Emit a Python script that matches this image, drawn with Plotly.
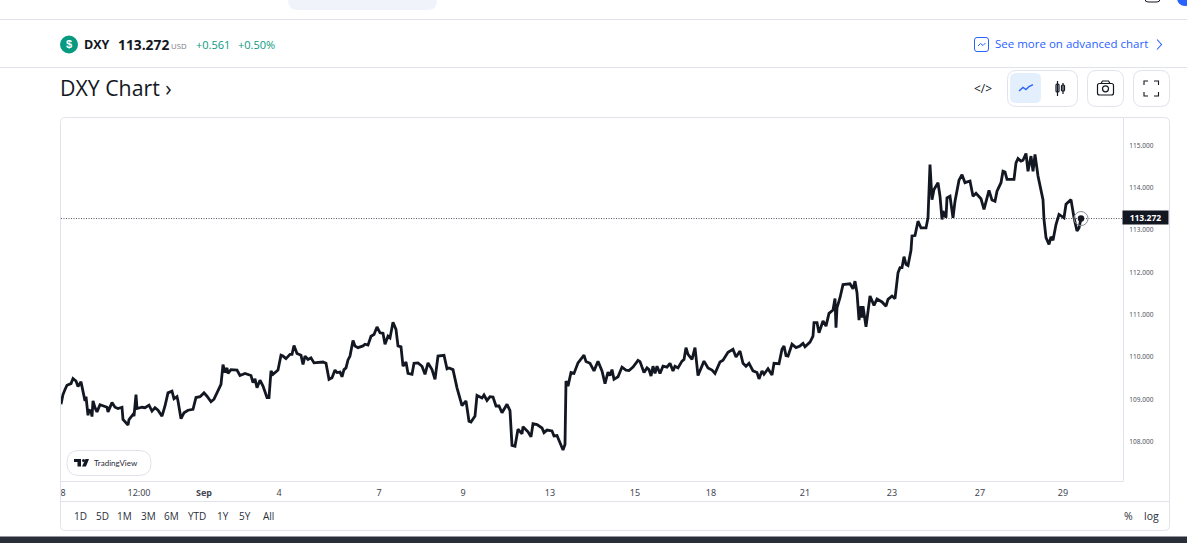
import plotly.graph_objects as go

W, H = 1187, 543

# bar number on the time scale and index level at that bar
bars = [
    0, 2, 4, 6, 10, 12, 15, 17, 20, 22, 24, 25, 27, 28, 30, 31, 32, 34, 36, 39, 42, 46, 47, 51, 54, 57, 61, 62, 67, 68,
    72, 73, 75, 76, 81, 84, 88, 91, 94, 97, 101, 104, 107, 111, 113, 116, 117, 120, 123, 127, 132, 135, 139, 143, 146,
    150, 153, 156, 160, 162, 164, 166, 167, 170, 176, 179, 184, 190, 192, 194, 196, 199, 202, 206, 208, 210, 212, 217,
    220, 222, 225, 229, 231, 233, 236, 240, 242, 244, 247, 250, 253, 262, 265, 268, 271, 274, 276, 279, 281, 283, 285,
    287, 289, 292, 294, 297,
    302, 304, 307, 310, 313, 316, 319, 322, 324, 327, 329, 332, 335, 337, 340, 342, 345, 347, 351, 353, 357, 361, 364,
    367, 371, 374, 377, 383, 386, 388, 392, 396, 401, 405, 408, 410, 414, 416, 421, 423, 426, 429, 432, 435, 438, 441,
    446, 449, 451, 454, 457, 461, 462, 467, 470, 472, 476, 481, 483, 486, 491, 493, 496, 499, 502, 504, 505, 507, 510,
    513, 517, 523, 525, 529, 533, 537, 541, 544, 547, 549, 551, 553, 557, 561, 565, 568, 572, 577, 579, 583, 586, 588,
    590, 592, 594, 596, 599,
    602, 606, 609, 612, 614, 617, 621, 623, 625, 627, 631, 634, 637, 641, 643, 647, 651, 654, 659, 662, 667, 672, 675,
    679, 682, 685, 688, 692, 696, 698, 701, 703, 707, 711, 713, 718, 721, 723, 725, 727, 731, 735, 739, 742, 744, 749,
    752, 753, 756, 758, 762, 765, 768, 772, 774, 775, 776, 779, 782, 789, 792, 794, 796, 798, 800, 801, 802, 805, 807,
    809, 813, 816, 821, 825, 827, 831, 834, 837, 839, 841, 843, 845, 847, 850,
    851, 854, 857, 860, 865, 867, 869, 871, 873, 877, 879, 881, 882, 885, 886, 889, 892, 894, 898, 901, 904, 909, 912,
    915, 920, 923, 928, 931, 934, 936, 940, 942, 944, 946, 953, 955, 957, 960, 962, 965, 967, 970, 972, 974, 977, 982,
    983, 985, 988, 990, 992, 995, 998, 1003, 1005, 1010, 1013, 1016, 1018, 1020,
]
closes = [
    108.88, 109.11, 109.23, 109.33, 109.37, 109.49, 109.43, 109.30, 109.41, 109.15, 108.96, 109.06, 108.62, 108.74,
    108.72, 108.59, 108.96, 108.80, 108.70, 108.87, 108.84, 108.81, 108.70, 108.92, 108.81, 108.78, 108.81, 108.52,
    108.39, 108.52, 108.64, 108.60, 109.11, 108.78, 108.81, 108.80, 108.86, 108.72, 108.80, 108.74, 108.60, 108.84,
    109.15, 109.19, 109.01, 109.06, 108.96, 108.54, 108.68, 108.74, 108.76, 109.04, 109.06, 109.15, 109.07, 108.94,
    109.00, 109.15, 109.35, 109.82, 109.63, 109.74, 109.61, 109.70, 109.69, 109.56, 109.61, 109.56, 109.39, 109.48,
    109.27, 109.45, 109.31, 109.04, 109.04, 109.67, 109.59, 109.69, 110.04, 110.02, 109.96, 110.06, 110.06, 110.27,
    110.08, 110.04, 109.82, 110.02, 109.94, 109.98, 109.86, 109.88, 109.85, 109.47, 109.51, 109.69, 109.63, 109.64,
    109.53, 109.70, 109.74, 109.93, 110.02, 110.39, 110.26, 110.22,
    110.26, 110.30, 110.28, 110.49, 110.53, 110.71, 110.57, 110.56, 110.30, 110.49, 110.45, 110.82, 110.65, 110.26,
    110.24, 109.78, 109.88, 109.61, 109.59, 109.85, 109.86, 109.78, 109.59, 109.86, 109.70, 109.47, 110.02, 110.04,
    109.72, 109.74, 109.70, 109.27, 108.85, 108.96, 108.48, 108.46, 108.60, 109.09, 109.03, 109.10, 108.97, 109.06,
    109.05, 108.84, 108.84, 108.68, 108.88, 108.73, 107.91, 107.89, 108.29, 108.18, 108.35, 108.23, 108.11, 108.42,
    108.40, 108.32, 108.21, 108.27, 108.25, 108.13, 108.14, 107.97, 107.80, 107.93, 109.43, 109.31, 109.63, 109.61,
    109.86, 110.04, 109.89, 109.85, 109.67, 109.90, 109.67, 109.37, 109.64, 109.56, 109.70, 109.47, 109.53, 109.76,
    109.69, 109.68, 109.76, 109.92, 109.89, 109.63, 109.74, 109.70, 109.55, 109.78, 109.61, 109.78, 109.61,
    109.78, 109.76, 109.85, 109.67, 109.78, 109.74, 109.90, 109.94, 110.22, 110.06, 109.94, 110.22, 109.56, 109.82,
    109.90, 109.74, 109.69, 109.61, 109.88, 109.92, 110.11, 110.18, 110.00, 110.14, 109.85, 109.78, 109.85, 109.67,
    109.63, 109.48, 109.67, 109.59, 109.72, 109.57, 109.85, 109.84, 110.18, 110.26, 110.03, 110.02, 110.30, 110.22,
    110.26, 110.32, 110.24, 110.35, 110.49, 110.81, 110.81, 110.57, 110.85, 110.73, 111.03, 111.11, 111.38, 110.69,
    111.16, 111.40, 111.71, 111.73, 111.61, 111.79, 111.52, 110.87, 111.20, 110.93, 111.20, 110.71, 111.12, 111.44,
    111.22, 111.37, 111.30, 111.20, 111.36, 111.44, 111.38, 111.99, 112.11, 112.11, 112.37, 112.19, 112.16, 112.52,
    112.86, 112.87, 113.21, 113.05, 113.05, 113.29, 114.55, 113.72, 113.96, 114.12, 113.80, 113.25, 113.45, 113.29,
    113.76, 113.80, 113.29, 113.68, 114.18, 114.31, 114.12, 114.16, 113.80, 113.87, 113.74, 113.49, 113.94, 113.71,
    113.68, 113.92, 114.12, 114.39, 114.37, 114.20, 114.20, 114.59, 114.69, 114.63, 114.65, 114.81, 114.39, 114.75,
    114.39, 114.79, 114.28, 113.72, 113.25, 112.82, 112.66, 112.84, 112.76, 113.13, 113.37, 113.29, 113.61, 113.72,
    113.29, 112.98, 113.05, 113.272,
]
last_price = 113.272

price_ticks = [108, 109, 110, 111, 112, 113, 114, 115]
price_labels = ["108.000", "109.000", "110.000", "111.000", "112.000", "113.000", "114.000", "115.000"]
time_ticks = [2, 78, 143, 218, 318, 402, 489, 574, 650, 744, 831, 919, 1002]
time_labels = ["8", "12:00", "<b>Sep</b>", "4", "7", "9", "13", "15", "18", "21", "23", "27", "29"]
range_buttons = ["1D", "5D", "1M", "3M", "6M", "YTD", "1Y", "5Y", "All"]

INK = "#131722"
BORDER = "#e0e3eb"
GREEN = "#089981"
BLUE = "#2962ff"
UI_FONT = "Open Sans"
CHART_FONT = "Noto Sans"


def px(x):
    return x / W


def py(y):
    return 1 - y / H


def path(*pts, close=False):
    s = "M" + " L".join(f"{px(x):.5f},{py(y):.5f}" for x, y in pts)
    return s + (" Z" if close else "")


def round_box(x0, y0, x1, y1, r):
    c = lambda x, y: f"{px(x):.5f},{py(y):.5f}"
    return (f"M{c(x0 + r, y0)} L{c(x1 - r, y0)} Q{c(x1, y0)} {c(x1, y0 + r)} L{c(x1, y1 - r)} "
            f"Q{c(x1, y1)} {c(x1 - r, y1)} L{c(x0 + r, y1)} Q{c(x0, y1)} {c(x0, y1 - r)} "
            f"L{c(x0, y0 + r)} Q{c(x0, y0)} {c(x0 + r, y0)} Z")


shapes = []


def add_path(d, line=None, fill=None, width=1):
    shapes.append(dict(type="path", path=d, xref="paper", yref="paper", fillcolor=fill or "rgba(0,0,0,0)",
                       line=dict(color=line or "rgba(0,0,0,0)", width=width if line else 0), layer="above"))


def add_circle(cx, cy, r, fill=None, line=None, width=1):
    shapes.append(dict(type="circle", xref="paper", yref="paper", x0=px(cx - r), x1=px(cx + r), y0=py(cy + r),
                       y1=py(cy - r), fillcolor=fill or "rgba(0,0,0,0)",
                       line=dict(color=line or "rgba(0,0,0,0)", width=width if line else 0), layer="above"))


annotations = []


def label(x, y, text, size, color=INK, anchor="left", font=UI_FONT):
    annotations.append(dict(x=px(x), y=py(y), xref="paper", yref="paper", text=text, showarrow=False, xanchor=anchor,
                            yanchor="middle", xshift=-1 if anchor == "left" else 0,
                            font=dict(size=size, color=color, family=font), borderpad=0, align=anchor))


# page frame
add_path(round_box(288, -12, 437, 10, 10), fill="#f0f3fa")
add_path(path((0, 19.5), (W, 19.5)), line=BORDER)
add_path(path((0, 67.5), (W, 67.5)), line=BORDER)
add_path(path((0, 540), (W, 540)), line="#2a2e39", width=7)
add_path(round_box(1145, -8, 1160, 2, 3), line=INK, width=1)
add_circle(1185, -2, 8, fill=BLUE)

# symbol header
add_circle(69, 44.5, 9, fill=GREEN)
label(69, 44.5, "<b>$</b>", 11, "white", "center", "Liberation Sans")
label(84, 44.5, "<b>DXY</b>", 12.5, INK)
label(118, 44.5, "<b>113.272</b>", 13.8, INK)
label(171, 46, "USD", 7.8, "#787b86")
label(196, 44.5, "+0.561", 11, GREEN)
label(238, 44.5, "+0.50%", 11, GREEN)

add_path(round_box(974.5, 37.5, 988.5, 51.5, 2.5), line=BLUE)
add_path(path((978, 46), (980.5, 43.5), (983, 45.5), (985.5, 43)), line=BLUE)
label(995, 43.5, "See more on advanced chart", 11.5, BLUE)
add_path(path((1157, 39.5), (1161.5, 44.5), (1157, 49.5)), line=BLUE, width=1.1)

# title row
label(60, 87.5, "DXY Chart ›", 21.3, INK)
label(982.5, 88, "&lt;/&gt;", 12, INK, "center")
add_path(round_box(1007.5, 70.5, 1077.5, 106.5, 9), line=BORDER)
add_path(round_box(1010, 73, 1041, 103, 6), fill="#e3effd")
add_path(path((1019, 91), (1023, 87.5), (1026, 89.5), (1029, 86.5), (1033, 84.5)), line=BLUE, width=1.4)
add_path(round_box(1056, 84, 1059, 92, 1), line=INK, width=1.2)
add_path(path((1057.5, 81), (1057.5, 96)), line=INK, width=1.2)
add_path(round_box(1061.5, 85, 1064.5, 91, 1), line=INK, width=1.2)
add_path(path((1063, 83), (1063, 94)), line=INK, width=1.2)
add_path(round_box(1087.5, 70.5, 1123.5, 106.5, 9), line=BORDER)
add_path(round_box(1097.5, 83.5, 1113.5, 95, 2), line=INK, width=1.2)
add_path(path((1101, 83.5), (1102.5, 81), (1108.5, 81), (1110, 83.5)), line=INK, width=1.2)
add_circle(1105.5, 88.8, 3, line=INK, width=1.2)
add_path(round_box(1133.5, 70.5, 1169.5, 106.5, 9), line=BORDER)
for a, b, c in [((1144, 85), (1144, 81), (1148, 81)), ((1154, 81), (1158.5, 81), (1158.5, 85)),
                ((1158.5, 92), (1158.5, 96), (1154, 96)), ((1148, 96), (1144, 96), (1144, 92))]:
    add_path(path(a, b, c), line=INK, width=1.1)

# chart frame
add_path(round_box(60.5, 117.5, 1169.5, 530.5, 5), line=BORDER)
add_path(path((61, 481.5), (1123.5, 481.5), (1123.5, 117.5)), line=BORDER)
add_path(path((60, 501.5), (1170, 501.5)), line=BORDER)

# TradingView badge
add_path(round_box(67, 450.5, 151, 475.5, 12), line=BORDER, fill="white")
add_path(path((74, 459), (81, 459), (81, 466.5), (77.5, 466.5), (77.5, 462), (74, 462), close=True), fill=INK)
add_circle(83.5, 460.5, 1.5, fill=INK)
add_path(path((85.5, 459), (89, 459), (86, 466.5), (82, 466.5), close=True), fill=INK)
label(94, 463, "TradingView", 8, "#2a2e39", "left", "Lato")

# range buttons and scale switches
for name, x in zip(range_buttons, [80, 102, 125, 148, 171, 197, 223, 245, 268]):
    label(x, 516, name, 10, "#2a2e39", "center")
label(1128, 516, "%", 10.5, "#2a2e39", "center")
label(1151, 516, "log", 10.5, "#2a2e39", "center")

# last price tag
annotations.append(dict(x=px(1145.5), y=last_price, xref="paper", yref="y", text="<b>113.272</b>", showarrow=False,
                        xanchor="center", yanchor="middle", bgcolor=INK, width=45, height=13, borderpad=0, yshift=1,
                        font=dict(size=8.5, color="white", family=CHART_FONT)))
shapes.append(dict(type="line", xref="x", yref="y", x0=0, x1=1062, y0=last_price, y1=last_price, layer="below",
                   line=dict(color="#50535e", width=1, dash="1px,1.5px")))

fig = go.Figure()
fig.add_trace(go.Scatter(x=bars, y=closes, mode="lines", line=dict(color=INK, width=2.8), hoverinfo="skip"))
fig.add_trace(go.Scatter(x=bars[-1:], y=closes[-1:], mode="markers", hoverinfo="skip",
                         marker=dict(size=14, color="rgba(0,0,0,0)", line=dict(color="#8a8d96", width=1))))
fig.add_trace(go.Scatter(x=bars[-1:], y=closes[-1:], mode="markers", hoverinfo="skip",
                         marker=dict(size=6.5, color=INK)))

fig.update_layout(
    width=W,
    height=H,
    margin=dict(l=0, r=0, t=0, b=0),
    paper_bgcolor="white",
    plot_bgcolor="white",
    showlegend=False,
    shapes=shapes,
    annotations=annotations,
    xaxis=dict(domain=[px(61), px(1123)], range=[0, 1062], showgrid=False, zeroline=False, showline=False,
               tickmode="array", tickvals=time_ticks, ticktext=time_labels, ticks="outside", ticklen=3,
               tickcolor="rgba(0,0,0,0)", tickangle=0, tickfont=dict(size=9, color="#434651", family=CHART_FONT)),
    yaxis=dict(domain=[py(481), py(118)], range=[107.066, 115.65], side="right", showgrid=False, zeroline=False,
               showline=False, tickmode="array", tickvals=price_ticks, ticktext=price_labels, ticks="outside",
               ticklen=4, tickcolor="rgba(0,0,0,0)", tickfont=dict(size=6.5, color="#50535e", family=CHART_FONT)),
)

fig.write_html("out.html", config={"displayModeBar": False},
               post_script="document.body.style.margin='0';document.body.style.overflow='hidden';")
